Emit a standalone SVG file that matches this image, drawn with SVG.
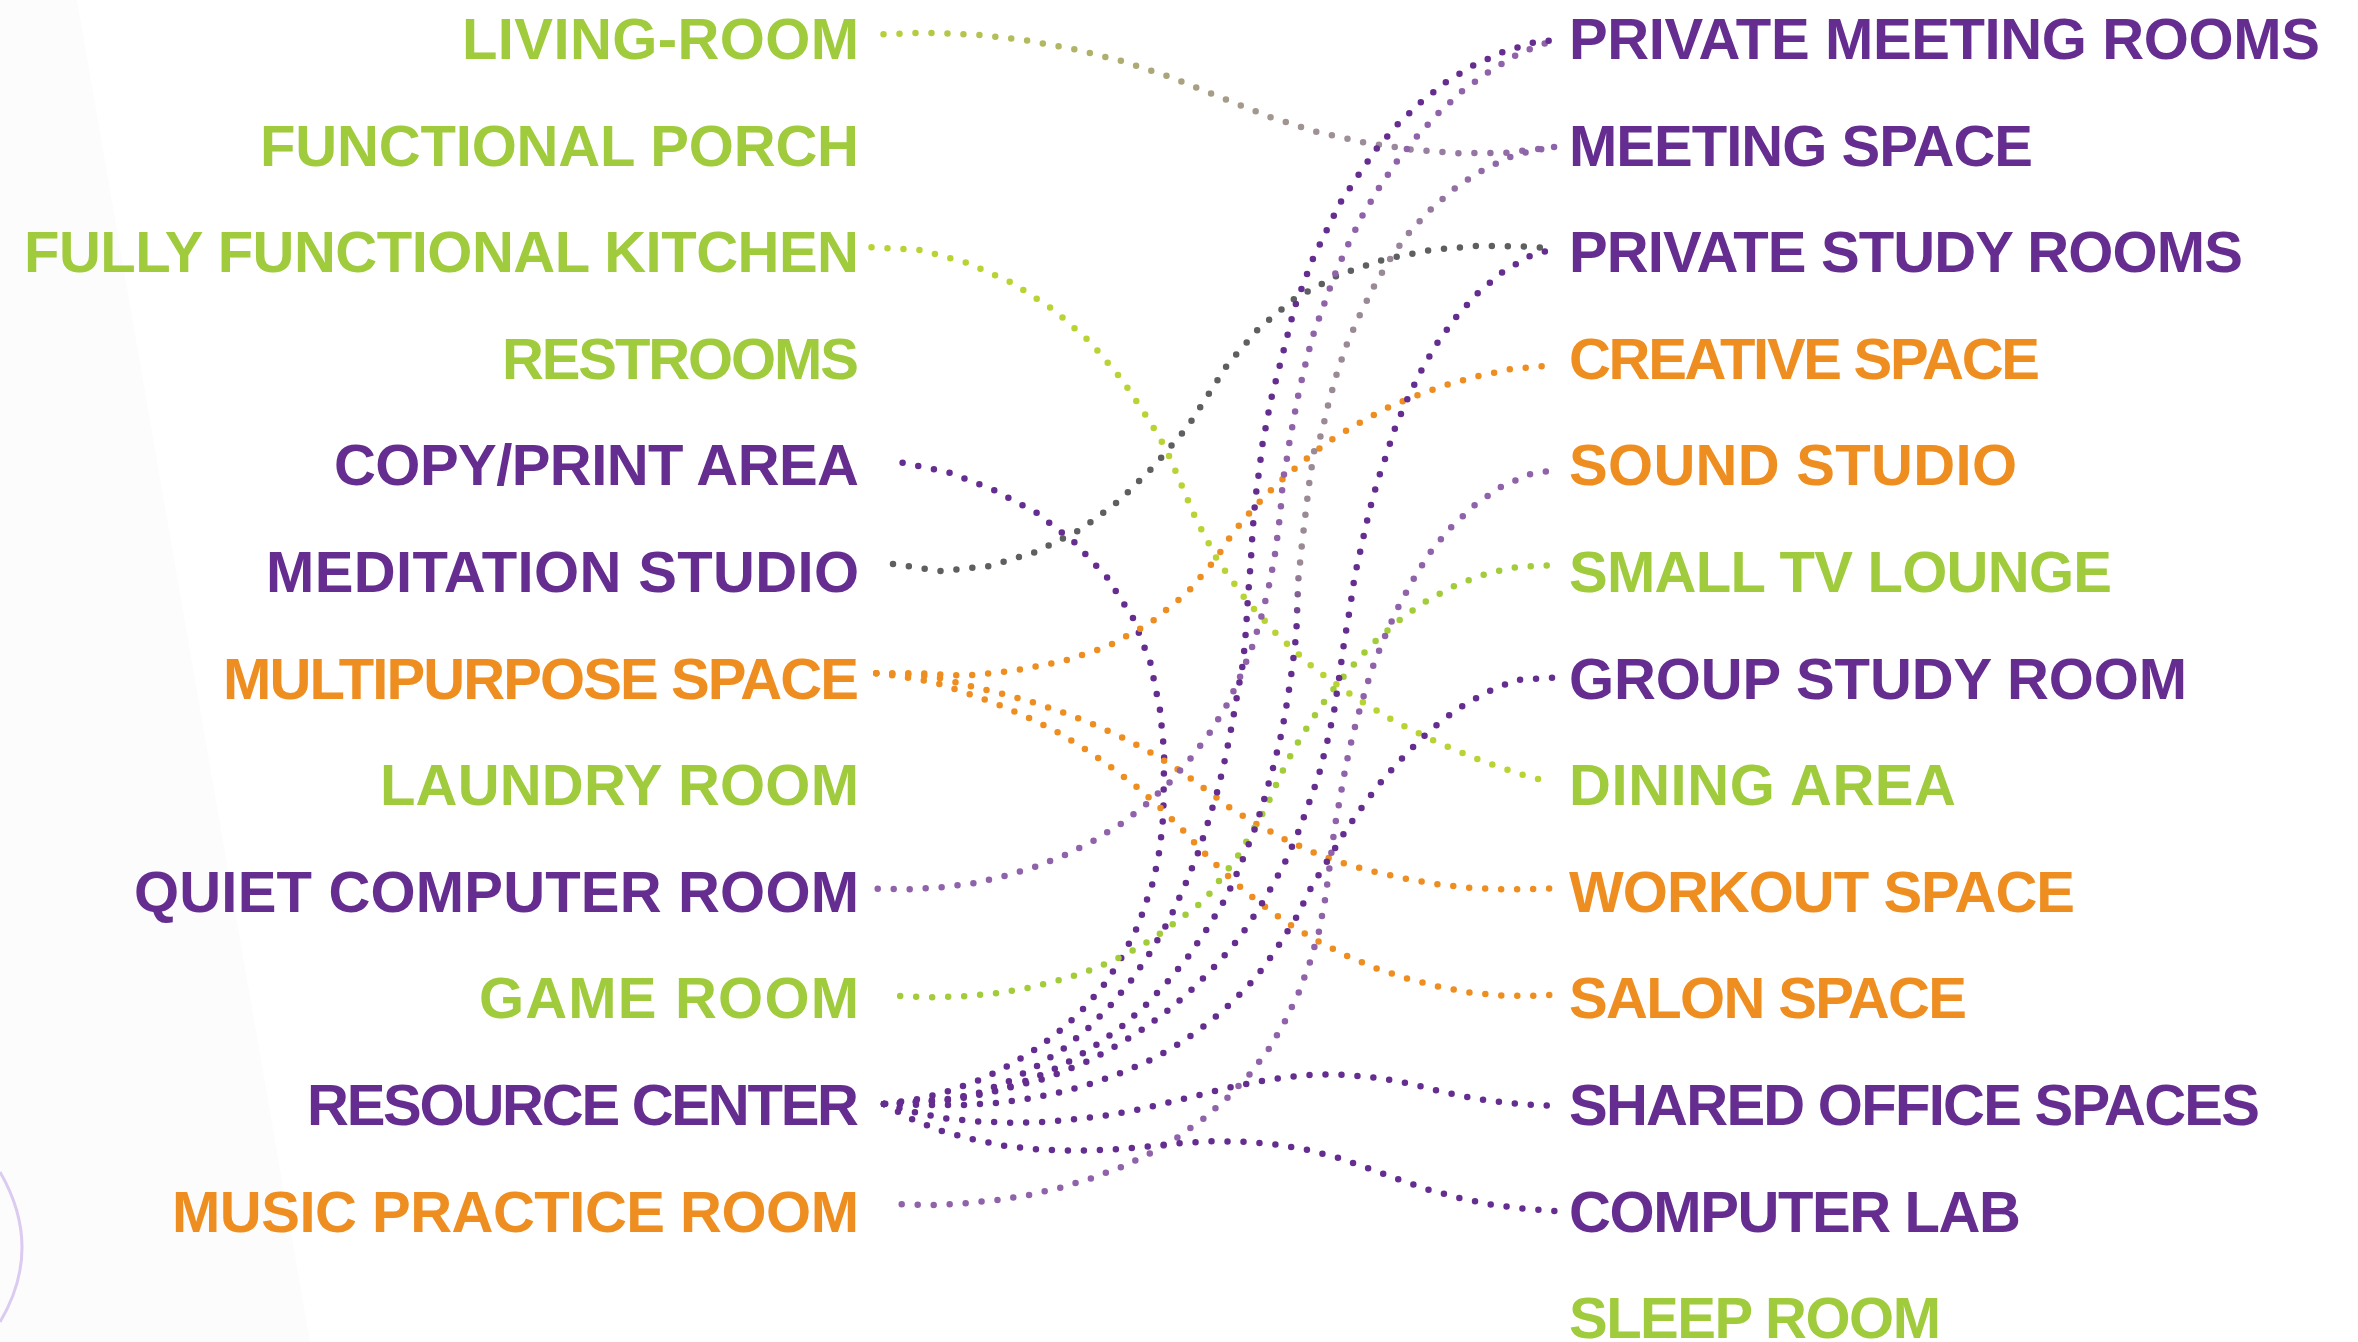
<svg xmlns="http://www.w3.org/2000/svg" width="2358" height="1342" viewBox="0 0 2358 1342">
<defs>
<style>
text{font-family:"Liberation Sans",Arial,sans-serif;font-weight:bold;font-size:58px}
.l{text-anchor:end}
.g{fill:#9fcb3c}.p{fill:#652d8f}.o{fill:#ee8e21}
.c{fill:none;stroke-width:6.5;stroke-linecap:round;stroke-linejoin:round;stroke-dasharray:0 16}
.cp{stroke:#652d8f}.clp{stroke:#8f62aa}.co{stroke:#ee8e21}.cgy{stroke:#5e5f61}.clime{stroke:#b8d434}.cg{stroke:#a3cc3a}
</style>
<linearGradient id="gLiving" gradientUnits="userSpaceOnUse" x1="883" y1="0" x2="1555" y2="0">
<stop offset="0" stop-color="#b7d03a"/><stop offset="0.3" stop-color="#b0b26a"/><stop offset="0.5" stop-color="#a69c88"/><stop offset="0.75" stop-color="#9b8a9c"/><stop offset="1" stop-color="#8e62aa"/>
</linearGradient>
<linearGradient id="gMeet" gradientUnits="userSpaceOnUse" x1="0" y1="1104" x2="0" y2="147">
<stop offset="0" stop-color="#652d8f"/><stop offset="0.5" stop-color="#652d8f"/><stop offset="0.56" stop-color="#9a8a96"/><stop offset="0.88" stop-color="#9a8a96"/><stop offset="1" stop-color="#8e62aa"/>
</linearGradient>
</defs>
<rect width="2358" height="1342" fill="#ffffff"/>
<polygon points="0,0 77,0 310,1342 0,1342" fill="#fcfcfc"/>
<path d="M0,1172 Q44,1248 0,1322" fill="none" stroke="#dccbf0" stroke-width="3"/>
<g id="connectors">
<path class="c" stroke="url(#gLiving)" d="M883.5,34.3 L926.5,32.7 L976.7,34.7 L1026,40.3 L1074.8,49.3 L1122.6,61.3 L1170,77 L1216.4,95.7 L1270,117 L1315.9,131.7 L1362.7,142.3 L1409.6,149.3 L1457.4,153.3 L1506.7,152.7 L1554.5,147"/>
<path class="c clime" d="M871.5,247.3 L920.8,250 L967.7,263 L1012.6,283 L1053.8,310 L1090.6,342.3 L1121.7,379.3 L1149.4,420.7 L1165.7,448.3 L1179,479 L1195.3,517.7 L1217.3,560 L1246,600 L1278,635.7 L1314,668.3 L1353.7,696.7 L1395.3,721.7 L1439.3,743.3 L1483.7,761.7 L1529.2,777 L1553,782.7"/>
<path class="c cgy" d="M893,564 L940.9,571 L990.1,566 L1036.5,551.7 L1081,529.3 L1120.2,500 L1154.7,465.3 L1187.2,427.3 L1204.9,400 L1227.9,364 L1258.9,328.3 L1295.8,297.7 L1337.9,275.3 L1384.3,259.3 L1431.1,250 L1479.4,245.7 L1527.8,246.7 L1554.5,248.3"/>
<path class="c cp" d="M902.6,462.7 L949.5,472.7 L994,490 L1036.5,512.7 L1074.8,542.7 L1107.3,577.7 L1133.2,618.3 L1150.4,662.7 L1160,710 L1164.2,751.7 L1163.3,815.7 L1160,847.7 L1153.7,880 L1138.4,925 L1124.1,953.3 L1107.3,980.7 L1086.8,1005.3 L1063.8,1027.7 L1038,1047.7 L1011.2,1064.3 L982.5,1079 L951.9,1090 L921.7,1098.7 L884,1104"/>
<path class="c co" d="M876.3,673.3 L918.4,673.3 L965.7,675.7 L1014.1,670.7 L1061.4,661.7 L1106.9,646.7 L1149.4,623.7 L1186.7,593.3 L1215,560 L1232.6,533.3 L1254.2,507.3 L1276.6,484.3 L1301.5,462.7 L1327.3,442.3 L1355.6,425 L1384.7,409 L1415.3,396 L1446,385 L1478,376 L1510.1,369.3 L1543,366 L1553.1,365.7"/>
<path class="c co" d="M876.3,673.3 L902.6,674.3 L934.2,676.7 L969.6,686 L1002.1,693.7 L1034.1,702.7 L1065.2,713.3 L1095.9,725.3 L1126,739.3 L1155.2,755 L1182.9,772.7 L1210.2,792.7 L1230.7,808.3 L1258,825 L1286.2,840 L1315.4,853.3 L1346,864 L1377.6,872.7 L1408.7,879.3 L1440.7,884.7 L1472.7,888 L1505.3,889.3 L1537.3,889 L1553.1,888.3"/>
<path class="c co" d="M876.3,673.3 L902.6,676.7 L934.2,682.3 L963.8,692 L994.9,703.3 L1024.6,715.7 L1053.8,730 L1081.5,746.7 L1108.3,765 L1134.1,784.7 L1158.5,806 L1181.5,828.7 L1199.6,848.3 L1223.1,871.7 L1247.5,893.3 L1260.4,903.3 L1286.7,922.7 L1315.4,940 L1345,955 L1375.2,968 L1406.3,978.3 L1438.8,986.7 L1470.8,992.7 L1503.4,995.7 L1536.8,995.7 L1553.1,994.7"/>
<path class="c cg" d="M900.2,996 L933.2,997.3 L965.7,996.3 L998.8,993 L1031.3,987.3 L1063.8,979 L1094.9,968.7 L1125,955 L1153.2,938.7 L1180,919 L1204.9,900 L1215.9,885 L1236.5,858.3 L1253.2,830 L1266.1,807.3 L1279,778.3 L1293.9,749 L1310.6,721.7 L1329.3,694.3 L1349.8,669 L1371.3,645 L1395.3,623.3 L1421.6,604 L1450.3,587.7 L1479.9,575.7 L1511.5,567.7 L1543.5,565.3 L1553.1,565.7"/>
<path class="c clp" d="M877.7,888.7 L908.8,889.3 L941.8,887.3 L973.4,883.3 L1004.5,876 L1035.6,866.7 L1065.2,855 L1094.9,840 L1121.7,823.3 L1147.5,803.3 L1170.5,781.7 L1192,756.7 L1211.1,731 L1227.9,703.3 L1241.3,674 L1253.2,644.3 L1262.3,613.3 L1270,581.7 L1275.7,550 L1280.5,511.7 L1282.9,480 L1286.2,463.3 L1288.6,446.7 L1297.2,400 L1304.4,368.3 L1312.5,336.7 L1323.5,306 L1334.5,275.3 L1347.4,246 L1361.8,216.7 L1378.5,188.7 L1396.7,161.7 L1416.8,136.7 L1438.8,112.7 L1462.7,90.7 L1489,71.7 L1516.3,55 L1531.6,48.3 L1554.5,40"/>
<path class="c clp" d="M901.7,1204.3 L933.7,1205 L965.3,1203.3 L997.3,1200 L1028.9,1195 L1060.5,1187.7 L1091.1,1178.3 L1121.2,1167 L1150.4,1153.3 L1177.6,1137.3 L1203.9,1118.3 L1227.9,1097.3 L1249.9,1074 L1269.5,1048 L1285.3,1020.7 L1299.1,991.7 L1310.1,961.7 L1319.2,930.7 L1325,900 L1328.3,876.7 L1334.5,828.3 L1340.3,796.7 L1346,765 L1353.2,733.3 L1361.8,702.3 L1371.3,670.7 L1383.3,640 L1396.7,610 L1412,581.7 L1428.7,554.3 L1449.3,529 L1472.7,506.7 L1499.5,487.7 L1529.2,474.3 L1554.5,470"/>
<path class="c cp" d="M884,1104 L948,1100 L979.1,1092.7 L1009.3,1081 L1037.5,1065.7 L1064.8,1047.7 L1089.2,1027.3 L1111.6,1004.3 L1132.2,979 L1150.4,952.3 L1166.2,925 L1173.8,910 L1187.2,880 L1199.2,850 L1208.7,820 L1218.3,788.3 L1225.5,757.3 L1231.7,726 L1237.4,694 L1243.2,661.7 L1246,630 L1248,596.7 L1250.8,561.7 L1252.7,529.3 L1255.6,496.7 L1259.9,465 L1262,446.7 L1270.9,400 L1282.9,353.3 L1294.8,306.7 L1311.6,261.7 L1325.9,231.7 L1340.3,202.7 L1358,175.7 L1376.1,149.3 L1397.7,124.3 L1420.6,102.3 L1446.4,81.7 L1474.2,65 L1503.8,51.7 L1534,42.3 L1554.5,40"/>
<path class="c" stroke="url(#gMeet)" d="M884,1104 L940,1101 L972,1096.7 L1004.5,1088.3 L1035.1,1077.7 L1064.3,1064.3 L1093,1047.3 L1119.8,1028.3 L1144.2,1006.7 L1166.6,982.7 L1187.7,957.3 L1206.3,930 L1223.1,902.7 L1231.2,886.7 L1243.6,857.3 L1255.6,826.7 L1265.2,796 L1274.3,763.3 L1281.9,731.7 L1287.6,699.3 L1292.4,666.7 L1296.3,634 L1298.2,580.7 L1301.5,548.3 L1305.3,515.7 L1309.2,483.3 L1314,451.7 L1321.1,435 L1328.3,404.3 L1336.9,373.3 L1347.4,342.7 L1360.8,312.7 L1375.2,284 L1391.9,256 L1411.1,230 L1433.5,206.7 L1458.4,185.3 L1486.1,168.3 L1514.8,155 L1537.3,150 L1554.5,147"/>
<path class="c cp" d="M884,1104 L945.7,1099.3 L993.5,1091.7 L1043.2,1079 L1058.5,1073.3 L1089.2,1060.7 L1117.8,1045 L1145.1,1027.7 L1171.4,1007.7 L1195.8,986 L1218.3,962.7 L1239.8,937.3 L1258,910 L1267.1,895 L1282.9,866.7 L1296.3,837.3 L1307.7,806.7 L1318.7,775.7 L1326.9,743.3 L1334,711.7 L1338.8,680 L1344.1,642.3 L1349.8,609.3 L1354.6,576.7 L1361.8,544.3 L1369,512.3 L1377.6,480.7 L1388.1,450 L1392.9,433.3 L1405.8,402.3 L1420.1,372.7 L1436.4,344.3 L1455.5,317.7 L1477.5,293.3 L1502.9,271.7 L1531.6,255 L1554.5,249"/>
<path class="c cp" d="M884,1104 L930,1105 L966.2,1105 L998.8,1102.7 L1030.8,1098.3 L1062.8,1091.7 L1094.4,1082.7 L1124.5,1071.7 L1154.2,1058.3 L1182.4,1041.7 L1208.7,1022.7 L1233.1,1001.3 L1255.6,977.7 L1274.7,951.7 L1296.7,916.7 L1311.6,886.7 L1328.3,859.3 L1346,830 L1364.7,803.3 L1384.7,777.3 L1407.2,752.7 L1431.1,729.3 L1457.4,709 L1486.1,692.3 L1516.3,680 L1554.5,677.7"/>
<path class="c cp" d="M884,1104 L912.7,1111.7 L944.2,1118.3 L976.3,1121.3 L1007.8,1122.7 L1039.4,1122.3 L1071,1119.7 L1102.5,1116 L1133.6,1110.7 L1164.7,1103.3 L1195.8,1096 L1221.2,1089.3 L1252.7,1082.7 L1284.3,1077.3 L1316.8,1074.3 L1348.9,1075 L1380.9,1078.3 L1413,1084.3 L1444,1092.3 L1475.6,1098.7 L1507.7,1103 L1539.7,1105.3 L1555.5,1105.7"/>
<path class="c cp" d="M884,1104 L909.8,1118.3 L940.4,1130.7 L972.4,1139.3 L1004.5,1145.7 L1037.5,1149.3 L1070,1150.7 L1103.5,1150 L1136,1147.7 L1177.6,1143.3 L1210.2,1141.3 L1242.2,1141.7 L1274.7,1144.3 L1306.3,1149.7 L1337.9,1157.7 L1368,1168.3 L1398.6,1179.3 L1428.7,1189.7 L1460.3,1198.3 L1491.9,1204.7 L1523.5,1208.7 L1555.5,1211"/>
</g>
<g id="left-nodes">
<g id="n-living-room"><text class="l g" x="859" y="59" textLength="397">LIVING-ROOM</text></g>
<g id="n-functional-porch"><text class="l g" x="859" y="165.6" textLength="599">FUNCTIONAL PORCH</text></g>
<g id="n-kitchen"><text class="l g" x="859" y="272.2" textLength="835">FULLY FUNCTIONAL KITCHEN</text></g>
<g id="n-restrooms"><text class="l g" x="859" y="378.8" textLength="357">RESTROOMS</text></g>
<g id="n-copy-print"><text class="l p" x="859" y="485.4" textLength="525">COPY/PRINT AREA</text></g>
<g id="n-meditation"><text class="l p" x="859" y="592" textLength="593">MEDITATION STUDIO</text></g>
<g id="n-multipurpose"><text class="l o" x="859" y="698.6" textLength="636">MULTIPURPOSE SPACE</text></g>
<g id="n-laundry"><text class="l g" x="859" y="805.2" textLength="479">LAUNDRY ROOM</text></g>
<g id="n-quiet-computer"><text class="l p" x="859" y="911.8" textLength="725">QUIET COMPUTER ROOM</text></g>
<g id="n-game-room"><text class="l g" x="859" y="1018.4" textLength="380">GAME ROOM</text></g>
<g id="n-resource-center"><text class="l p" x="859" y="1125" textLength="552">RESOURCE CENTER</text></g>
<g id="n-music-practice"><text class="l o" x="859" y="1231.6" textLength="687">MUSIC PRACTICE ROOM</text></g>
</g>
<g id="right-nodes">
<g id="n-private-meeting"><text class="p" x="1569" y="59" textLength="751">PRIVATE MEETING ROOMS</text></g>
<g id="n-meeting-space"><text class="p" x="1569" y="165.6" textLength="464">MEETING SPACE</text></g>
<g id="n-private-study"><text class="p" x="1569" y="272.2" textLength="674">PRIVATE STUDY ROOMS</text></g>
<g id="n-creative"><text class="o" x="1569" y="378.8" textLength="471">CREATIVE SPACE</text></g>
<g id="n-sound-studio"><text class="o" x="1569" y="485.4" textLength="448">SOUND STUDIO</text></g>
<g id="n-small-tv"><text class="g" x="1569" y="592" textLength="543">SMALL TV LOUNGE</text></g>
<g id="n-group-study"><text class="p" x="1569" y="698.6" textLength="618">GROUP STUDY ROOM</text></g>
<g id="n-dining"><text class="g" x="1569" y="805.2" textLength="387">DINING AREA</text></g>
<g id="n-workout"><text class="o" x="1569" y="911.8" textLength="506">WORKOUT SPACE</text></g>
<g id="n-salon"><text class="o" x="1569" y="1018.4" textLength="398">SALON SPACE</text></g>
<g id="n-shared-office"><text class="p" x="1569" y="1125" textLength="691">SHARED OFFICE SPACES</text></g>
<g id="n-computer-lab"><text class="p" x="1569" y="1231.6" textLength="452">COMPUTER LAB</text></g>
<g id="n-sleep-room"><text class="g" x="1569" y="1338.2" textLength="372">SLEEP ROOM</text></g>
</g>
</svg>
